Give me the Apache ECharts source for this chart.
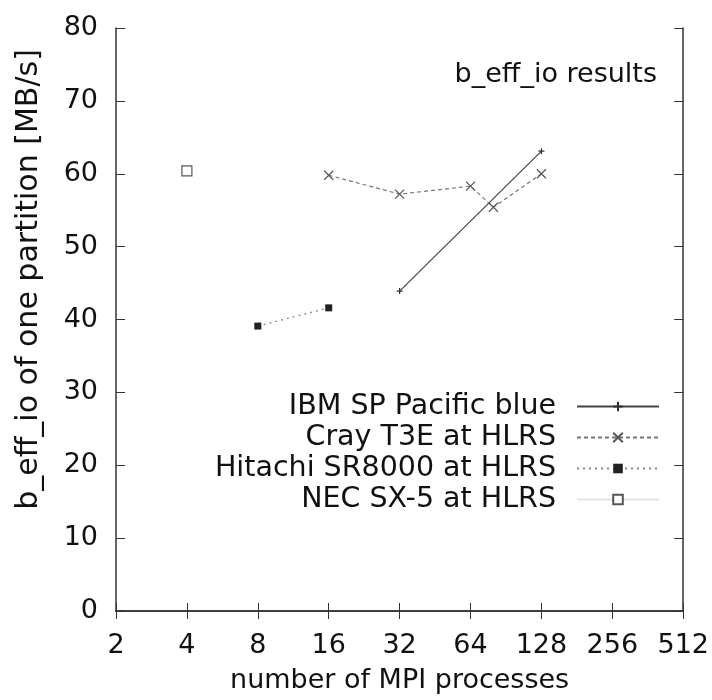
<!DOCTYPE html>
<html>
<head>
<meta charset="utf-8">
<script src="https://cdn.jsdelivr.net/npm/echarts@6/dist/echarts.min.js"></script>
<style>
  html, body { margin: 0; padding: 0; background: #fff; }
  #chart { width: 712px; height: 700px; }
</style>
</head>
<body>
<div id="chart"></div>
<script>
// values
var xTicks = [2, 4, 8, 16, 32, 64, 128, 256, 512];
var yTicks = [0, 10, 20, 30, 40, 50, 60, 70, 80];

var ibmX = [32, 128];
var ibmY = [43.9, 63.1];
var crayX = [16, 32, 64, 80, 128];
var crayY = [59.8, 57.2, 58.3, 55.4, 60.0];
var hitachiX = [8, 16];
var hitachiY = [39.1, 41.6];
var necX = [4];
var necY = [60.4];

var seriesNames = ['IBM SP Pacific blue', 'Cray T3E at HLRS', 'Hitachi SR8000 at HLRS', 'NEC SX-5 at HLRS'];

function pairs(xs, ys) {
  var out = [];
  for (var i = 0; i < xs.length; i++) out.push([xs[i], ys[i]]);
  return out;
}

var font = 'DejaVu Sans, sans-serif';
var fs = 27;
var plusPath = 'path://M5,0L5,10M0,5L10,5';
var crossPath = 'path://M0,0L10,10M10,0L0,10';

var myChart = echarts.init(document.getElementById('chart'));
var option = {
  backgroundColor: '#fff',
  animation: false,
  textStyle: { fontFamily: font, color: '#111' },
  grid: { left: 116, right: 28, top: 28, bottom: 89 },
  title: {
    text: 'b_eff_io results',
    right: 50, top: 56,
    textStyle: { fontFamily: font, fontSize: fs, fontWeight: 'normal', color: '#111' }
  },
  legend: {
    data: seriesNames,
    orient: 'vertical',
    align: 'right',
    right: 47, top: 386,
    itemWidth: 82, itemHeight: 12, itemGap: 0,
    textStyle: { fontFamily: font, fontSize: 28.5, color: '#111', padding: [0, 16, 0, 0], lineHeight: 31 }
  },
  xAxis: [{
    type: 'log', logBase: 2, min: 2, max: 512,
    name: 'number of MPI processes', nameLocation: 'middle', nameGap: 56,
    nameTextStyle: { fontFamily: font, fontSize: 27, color: '#111' },
    axisLine: { lineStyle: { color: '#333', width: 1.5 } },
    axisTick: { inside: true, length: 8, lineStyle: { color: '#333' } },
    axisLabel: { fontFamily: font, fontSize: fs, color: '#111', margin: 21,
                 formatter: function (v) { return xTicks.indexOf(Math.round(v)) >= 0 ? Math.round(v) : ''; } },
    splitLine: { show: false }
  }, {
    type: 'log', logBase: 2, min: 2, max: 512, position: 'top',
    axisLine: { show: true, lineStyle: { color: '#333', width: 1.5 } },
    axisTick: { inside: true, length: 8, lineStyle: { color: '#333' } },
    axisLabel: { show: false },
    splitLine: { show: false }
  }],
  yAxis: [{
    type: 'value', min: yTicks[0], max: yTicks[yTicks.length - 1], interval: 10,
    name: 'b_eff_io of one partition [MB/s]', nameLocation: 'middle', nameGap: 72,
    nameTextStyle: { fontFamily: font, fontSize: 30, color: '#111', padding: [0, 0, 0, 80] },
    axisLine: { show: true, lineStyle: { color: '#333', width: 1.5 } },
    axisTick: { show: true, inside: true, length: 9, lineStyle: { color: '#333' } },
    axisLabel: { fontFamily: font, fontSize: fs, color: '#111', margin: 18 },
    splitLine: { show: false }
  }, {
    type: 'value', min: yTicks[0], max: yTicks[yTicks.length - 1], interval: 10, position: 'right',
    axisLine: { show: true, lineStyle: { color: '#333', width: 1.5 } },
    axisTick: { show: true, inside: true, length: 9, lineStyle: { color: '#333' } },
    axisLabel: { show: false },
    splitLine: { show: false }
  }],
  series: [{
    name: seriesNames[0], type: 'line',
    data: pairs(ibmX, ibmY),
    symbol: plusPath, symbolSize: 6,
    itemStyle: { color: '#333', borderColor: '#333', borderWidth: 1.2 },
    lineStyle: { color: '#444', width: 1.2, type: 'solid' }
  }, {
    name: seriesNames[1], type: 'line',
    data: pairs(crayX, crayY),
    symbol: crossPath, symbolSize: 9,
    itemStyle: { color: '#555', borderColor: '#555', borderWidth: 1.2 },
    lineStyle: { color: '#777', width: 1.2, type: [4, 3] }
  }, {
    name: seriesNames[2], type: 'line',
    data: pairs(hitachiX, hitachiY),
    symbol: 'rect', symbolSize: 7,
    itemStyle: { color: '#222' },
    lineStyle: { color: '#888', width: 1.2, type: [2, 4] }
  }, {
    name: seriesNames[3], type: 'line',
    data: pairs(necX, necY),
    symbol: 'rect', symbolSize: 10,
    itemStyle: { color: '#fff', borderColor: '#555', borderWidth: 1.2 },
    lineStyle: { color: '#e4e4e4', width: 1 }
  }]
};
myChart.setOption(option);
</script>
</body>
</html>
